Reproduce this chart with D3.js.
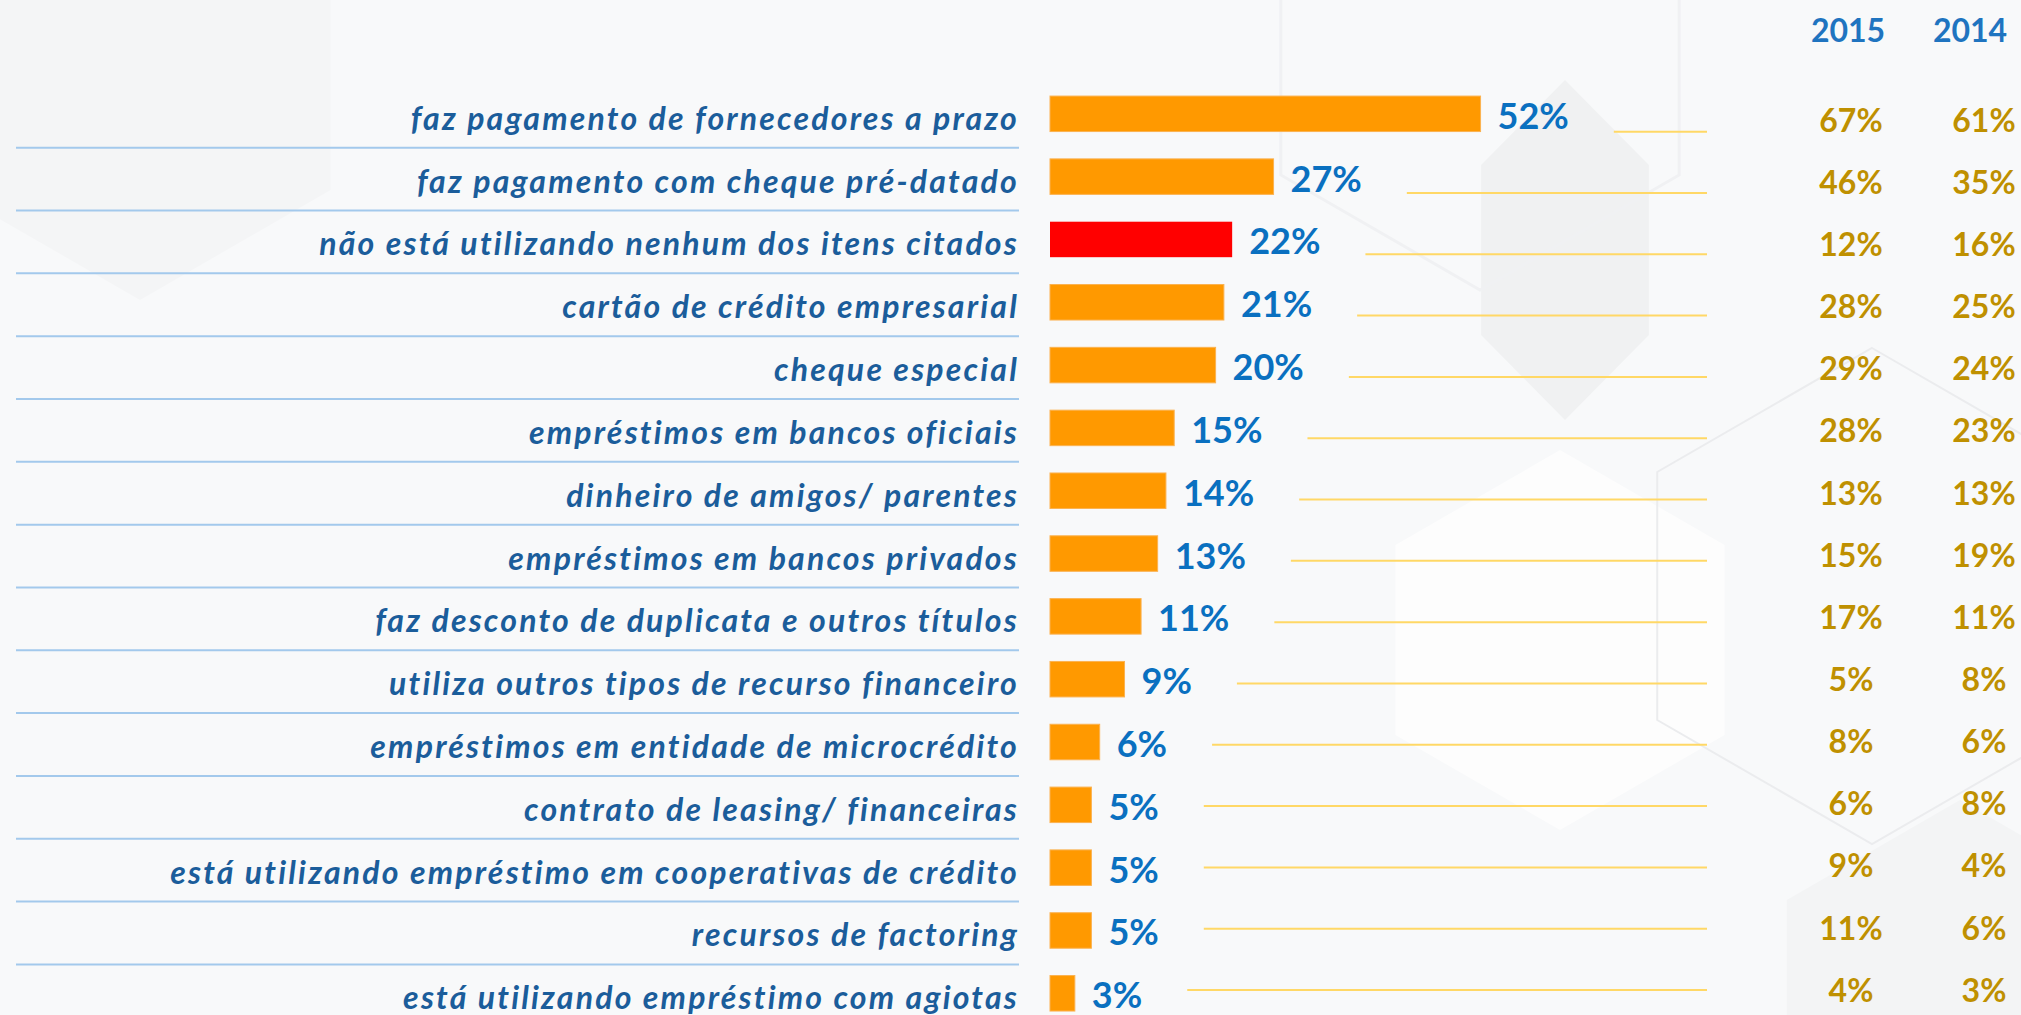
<!DOCTYPE html>
<html lang="pt-BR">
<head>
<meta charset="utf-8">
<title>Recursos financeiros utilizados</title>
<script src="https://cdn.jsdelivr.net/npm/d3@7/dist/d3.min.js"></script>
<style>
  html, body { margin: 0; padding: 0; background: #f8f9fa; overflow: hidden; }
  svg { display: block; }
</style>
</head>
<body>
<svg id="chart" width="2021" height="1015"></svg>
<script>
// Itens de financiamento, na ordem em que aparecem
const categorias = [
  "faz pagamento de fornecedores a prazo",
  "faz pagamento com cheque pré-datado",
  "não está utilizando nenhum dos itens citados",
  "cartão de crédito empresarial",
  "cheque especial",
  "empréstimos em bancos oficiais",
  "dinheiro de amigos/ parentes",
  "empréstimos em bancos privados",
  "faz desconto de duplicata e outros títulos",
  "utiliza outros tipos de recurso financeiro",
  "empréstimos em entidade de microcrédito",
  "contrato de leasing/ financeiras",
  "está utilizando empréstimo em cooperativas de crédito",
  "recursos de factoring",
  "está utilizando empréstimo com agiotas"
];

// Percentual atual (barras)
const valoresAtual = [52, 27, 22, 21, 20, 15, 14, 13, 11, 9, 6, 5, 5, 5, 3];

// Colunas de comparação
const anosComparacao = ["2015", "2014"];
const valores2015 = [67, 46, 12, 28, 29, 28, 13, 15, 17, 5, 8, 6, 9, 11, 4];
const valores2014 = [61, 35, 16, 25, 24, 23, 13, 19, 11, 8, 6, 8, 4, 6, 3];

// Item destacado em vermelho
const itemDestaque = "não está utilizando nenhum dos itens citados";

const W = 2021, H = 1015;
const svg = d3.select("#chart");

const linhas = categorias.map((c, i) => ({
  cat: c,
  atual: valoresAtual[i],
  v2015: valores2015[i],
  v2014: valores2014[i]
}));

// ---- fundo com hexágonos suaves ----
const fundo = svg.append("g");
fundo.append("rect").attr("width", W).attr("height", H).attr("fill", "#f8f9fa");
function hexagono(cx, cy, r, sx = 1, sy = 1) {
  const pts = d3.range(6).map(k => {
    const a = Math.PI / 3 * k - Math.PI / 2;
    return [cx + r * Math.cos(a) * sx, cy + r * Math.sin(a) * sy];
  });
  return "M" + pts.map(p => p.join(",")).join("L") + "Z";
}
fundo.append("path").attr("d", hexagono(1565, 250, 170, 0.57, 1))
  .attr("fill", "#f0f1f2");
fundo.append("path").attr("d", hexagono(1560, 640, 190, 1, 1))
  .attr("fill", "#fdfdfd");
fundo.append("path").attr("d", hexagono(1872, 596, 248))
  .attr("fill", "none").attr("stroke", "#ebecee").attr("stroke-width", 2);
fundo.append("path").attr("d", hexagono(1480, 60, 230))
  .attr("fill", "none").attr("stroke", "#f0f1f3").attr("stroke-width", 3);
fundo.append("path").attr("d", hexagono(1960, 1000, 200))
  .attr("fill", "#f3f4f5");
fundo.append("path").attr("d", hexagono(140, 80, 220, 1, 1))
  .attr("fill", "#f4f5f6");

// ---- escalas ----
const y = d3.scaleBand()
  .domain(categorias)
  .range([82.4, 1024.7])
  .paddingInner(0.435)
  .paddingOuter(0.2175);

const x = d3.scaleLinear().domain([0, 100]).range([1050, 1878]);

// colunas de comparação: posições horizontais e verticais próprias
const xAno = d3.scalePoint().domain(anosComparacao).range([1851, 1984]);
const yComp = d3.scalePoint().domain(categorias).range([120, 990]);
const yGuia = d3.scalePoint().domain(categorias).range([131.7, 990]);

const centro = c => y(c) + y.bandwidth() / 2;

// ---- linhas separadoras azuis ----
svg.append("g")
  .selectAll("line")
  .data(categorias.slice(0, -1))
  .join("line")
  .attr("x1", 16).attr("x2", 1019)
  .attr("y1", c => centro(c) + y.step() / 2 + 2.5)
  .attr("y2", c => centro(c) + y.step() / 2 + 2.5)
  .attr("stroke", "#a3c9ec").attr("stroke-width", 2);

// ---- rótulos das categorias ----
svg.append("g")
  .selectAll("text")
  .data(linhas)
  .join("text")
  .attr("x", 1019)
  .attr("y", d => centro(d.cat) + 16)
  .attr("text-anchor", "end")
  .attr("font-family", "Lato, 'Open Sans', sans-serif")
  .attr("font-style", "italic")
  .attr("font-weight", 700)
  .attr("font-size", 32)
  .attr("letter-spacing", "2.2px")
  .attr("fill", "#1b5d9b")
  .text(d => d.cat);

// ---- barras ----
svg.append("g")
  .selectAll("rect")
  .data(linhas)
  .join("rect")
  .attr("x", x(0))
  .attr("y", d => y(d.cat))
  .attr("width", d => x(d.atual) - x(0))
  .attr("height", y.bandwidth())
  .attr("fill", d => d.cat === itemDestaque ? "#ff0000" : "#ff9900")
  .attr("stroke", d => d.cat === itemDestaque ? "none" : "#fbb250")
  .attr("stroke-width", 1);

// ---- valores das barras ----
const rotulos = svg.append("g")
  .selectAll("text")
  .data(linhas)
  .join("text")
  .attr("x", d => x(d.atual) + 17)
  .attr("y", d => centro(d.cat) + 15)
  .attr("font-family", "Lato, 'Open Sans', sans-serif")
  .attr("font-weight", 700)
  .attr("font-size", 36)
  .attr("fill", "#0a70c0")
  .text(d => d.atual + "%");

// ---- linhas-guia douradas ----
const fimGuia = 1707;
svg.append("g")
  .selectAll("line")
  .data(linhas)
  .join("line")
  .attr("x1", (d, i) => {
    const t = rotulos.nodes()[i];
    return x(d.atual) + 17 + t.getComputedTextLength() + 45;
  })
  .attr("x2", fimGuia)
  .attr("y1", d => yGuia(d.cat))
  .attr("y2", d => yGuia(d.cat))
  .attr("stroke", "#ffd866").attr("stroke-width", 2);

// ---- cabeçalhos dos anos ----
svg.append("g")
  .selectAll("text")
  .data(anosComparacao)
  .join("text")
  .attr("x", a => a === "2015" ? 1848 : 1970)
  .attr("y", 41.7)
  .attr("text-anchor", "middle")
  .attr("font-family", "Lato, 'Open Sans', sans-serif")
  .attr("font-weight", 700)
  .attr("font-size", 32)
  .attr("fill", "#1f74c0")
  .text(a => a);

// ---- valores de comparação ----
const comp = svg.append("g");
[["2015", "v2015"], ["2014", "v2014"]].forEach(([ano, campo]) => {
  comp.append("g")
    .selectAll("text")
    .data(linhas)
    .join("text")
    .attr("x", xAno(ano))
    .attr("y", d => yComp(d.cat) + 11.7)
    .attr("text-anchor", "middle")
    .attr("font-family", "Lato, 'Open Sans', sans-serif")
    .attr("font-weight", 700)
    .attr("font-size", 32)
    .attr("fill", "#bf9000")
    .text(d => d[campo] + "%");
});
</script>
</body>
</html>
